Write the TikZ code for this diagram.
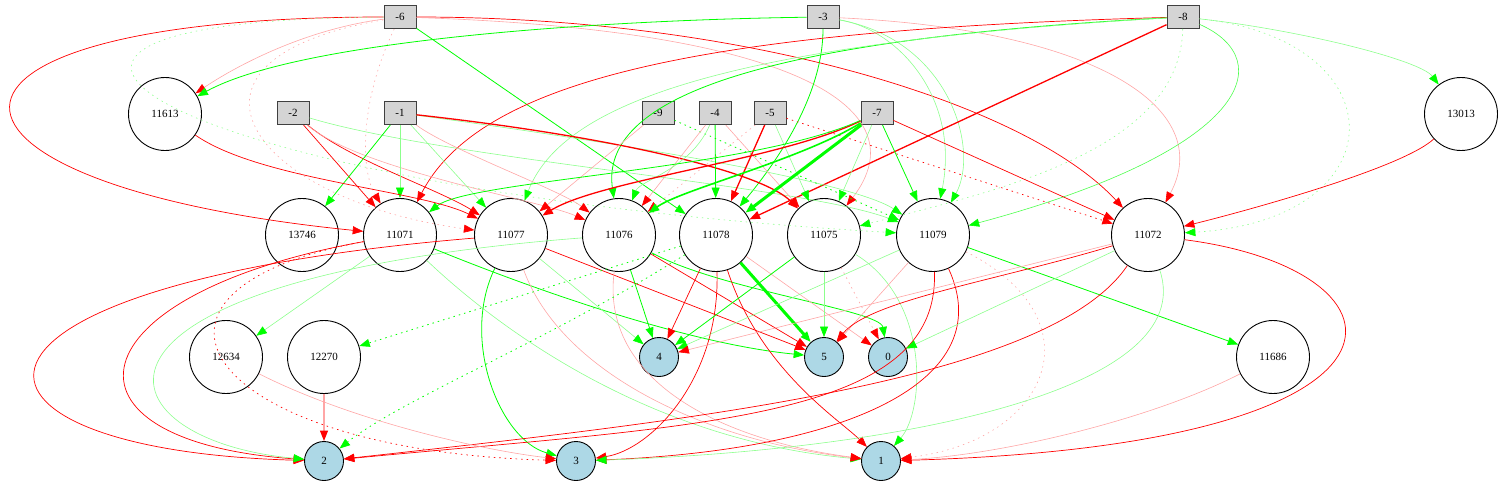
\documentclass[tikz,border=0pt]{standalone}
\usepackage{fontspec}
\setmainfont{Liberation Serif}
\usetikzlibrary{arrows.meta}
\definecolor{lightblue}{HTML}{ADD8E6}
\tikzset{
    %Define style for input boxes
    inp/.style={
           rectangle,
           draw=black!75, line width=1pt,
           fill=black!17,
           minimum width=32pt,
           minimum height=23pt,
           inner sep=0pt},
    %Define style for hidden nodes
    hid/.style={
           circle,
           draw, line width=0.9pt,
           minimum size=73pt,
           inner sep=0pt},
    %Define style for output nodes
    outp/.style={
           circle,
           draw, line width=0.9pt,
           fill=lightblue,
           minimum size=39pt,
           inner sep=0pt},
    % Define edge styles
    wneg/.style={
           draw=red, line width=0.7pt,
           -{Triangle[color=red,length=10.5pt,width=8pt]}},
    wnegt/.style={wneg, line width=1.3pt},
    wnegl/.style={wneg, draw=red!35, line width=0.6pt},
    wnegd/.style={wneg, dash pattern=on 1.5pt off 4pt},
    wnegld/.style={wnegl, dash pattern=on 1.5pt off 4pt},
    wpos/.style={
           draw=green, line width=0.8pt,
           -{Triangle[color=green,length=10.5pt,width=8pt]}},
    wpost/.style={wpos, line width=1.6pt},
    wposx/.style={wpos, line width=3pt},
    wposl/.style={wpos, draw=green!45, line width=0.6pt},
    wposd/.style={wpos, dash pattern=on 1.5pt off 4pt},
    wposld/.style={wposl, dash pattern=on 1.5pt off 4pt}
}

\begin{document}
\begin{tikzpicture}[x=1pt,y=-1pt,font=\fontsize{11}{13}\selectfont]
\useasboundingbox (0,0) rectangle (1503,487);
% inputs
\node [inp] (i6) at (400,17) {-6};
\node [inp] (i3) at (823,17) {-3};
\node [inp] (i8) at (1183,17) {-8};
\node [inp] (i2) at (293,113) {-2};
\node [inp] (i1) at (400,113) {-1};
\node [inp] (i9) at (658,113) {-9};
\node [inp] (i4) at (715,113) {-4};
\node [inp] (i5) at (770,113) {-5};
\node [inp] (i7) at (877,113) {-7};
% hidden
\node [hid] (h11613) at (165,114) {11613};
\node [hid] (h13013) at (1461,114) {13013};
\node [hid] (h13746) at (302,235) {13746};
\node [hid] (h11071) at (400,235) {11071};
\node [hid] (h11077) at (511,235) {11077};
\node [hid] (h11076) at (619,235) {11076};
\node [hid] (h11078) at (716,235) {11078};
\node [hid] (h11075) at (824,235) {11075};
\node [hid] (h11079) at (933,235) {11079};
\node [hid] (h11072) at (1148,235) {11072};
\node [hid] (h12634) at (226,357) {12634};
\node [hid] (h12270) at (324,357) {12270};
\node [hid] (h11686) at (1273,357) {11686};
% outputs
\node [outp] (o4) at (659,357) {4};
\node [outp] (o5) at (824,357) {5};
\node [outp] (o0) at (888,357) {0};
\node [outp] (o2) at (324,461) {2};
\node [outp] (o3) at (576,461) {3};
\node [outp] (o1) at (881,461) {1};

% edges from the inputs
\draw [wneg] (i6) .. controls +(-520,0) and +(-500,-50) .. (h11071);
\draw [wneg] (i6) .. controls +(350,0) and +(-120,-130) .. (h11072);
\draw [wpos] (i6) -- (h11078);
\draw [wnegl] (i6) .. controls +(-100,13) and +(65,-44) .. (h11613);
\draw [wnegld] (i6) .. controls +(-40,83) and +(-40,-65) .. (h11071);
\draw [wnegld] (i6) .. controls +(-250,43) and +(-261,-35) .. (h11077);
\draw [wposld] (i6) .. controls +(-520,3) and +(-760,-45) .. (h11079);
\draw [wnegl] (i6) .. controls +(400,13) and +(96,-125) .. (h11075);
\draw [wpos] (i3) .. controls +(-223,3) and +(135,-74) .. (h11613);
\draw [wpos] (i3) .. controls +(0,83) and +(54,-65) .. (h11078);
\draw [wposl] (i3) .. controls +(77,13) and +(27,-135) .. (h11079);
\draw [wposl] (i3) .. controls +(127,23) and +(47,-85) .. (h11079);
\draw [wnegl] (i3) .. controls +(277,13) and +(67,-125) .. (h11072);
\draw [wneg] (i8) .. controls +(-483,13) and +(80,-155) .. (h11071);
\draw [wpos] (i8) .. controls +(-433,23) and +(-19,-135) .. (h11076);
\draw [wposl] (i8) .. controls +(-483,28) and +(49,-125) .. (h11077);
\draw [wnegt] (i8) -- (h11078);
\draw [wposl, draw=green!70] (i8) .. controls +(97,43) and +(317,-85) .. (h11079);
\draw [wposl] (i8) .. controls +(117,13) and +(-41,-54) .. (h13013);
\draw [wposld] (i8) .. controls +(217,23) and +(252,-15) .. (h11072);
\draw [wposld] (i8) .. controls +(-3,133) and +(176,-45) .. (h11075);
\draw [wneg] (i2) -- (h11071);
\draw [wneg] (i2) .. controls +(57,47) and +(-71,-45) .. (h11077);
\draw [wnegl] (i2) .. controls +(67,57) and +(-79,-35) .. (h11076);
\draw [wposl] (i2) .. controls +(157,47) and +(-133,-50) .. (h11079);
\draw [wpos] (i1) -- (h13746);
\draw [wposl] (i1) -- (h11071);
\draw [wposl] (i1) -- (h11077);
\draw [wnegl] (i1) .. controls +(50,37) and +(-59,-45) .. (h11076);
\draw [wposl] (i1) .. controls +(200,27) and +(-83,-55) .. (h11079);
\draw [wnegt] (i1) .. controls +(200,22) and +(-64,-65) .. (h11075);
\draw [wnegl] (i9) -- (h11077);
\draw [wposd] (i9) -- (h11079);
\draw [wpos] (i4) -- (h11078);
\draw [wnegl] (i4) -- (h11076);
\draw [wposl] (i4) .. controls +(-25,57) and +(21,-55) .. (h11076);
\draw [wnegl] (i4) -- (h11075);
\draw [wnegt] (i5) -- (h11078);
\draw [wposl] (i5) -- (h11075);
\draw [wnegd] (i5) -- (h11072);
\draw [wnegld] (i5) -- (h11076);
\draw [wnegt] (i7) .. controls +(-97,47) and +(89,-55) .. (h11077);
\draw [wpost] (i7) .. controls +(-77,47) and +(61,-45) .. (h11076);
\draw [wposx] (i7) -- (h11078);
\draw [wpos] (i7) -- (h11079);
\draw [wposl] (i7) -- (h11075);
\draw [wneg] (i7) -- (h11072);
\draw [wpos] (i7) .. controls +(-127,57) and +(70,-55) .. (h11071);
\draw [wneg] (h11613) .. controls +(95,66) and +(-91,-45) .. (h11077);
\draw [wneg] (h13013) .. controls +(-61,56) and +(82,-20) .. (h11072);

% edges to the outputs
\draw [wneg] (h11071) .. controls +(-330,60) and +(-280,-20) .. (o2);
\draw [wneg] (h11077) .. controls +(-600,50) and +(-394,-11) .. (o2);
\draw [wposl] (h11076) .. controls +(-579,45) and +(-228,-21) .. (o2);
\draw [wnegd] (h11071) .. controls +(-300,55) and +(-376,-11) .. (o3);
\draw [wpos] (h11071) .. controls +(160,65) and +(-124,-12) .. (o5);
\draw [wposl] (h11071) .. controls +(100,95) and +(-231,-21) .. (o1);
\draw [wposl] (h11071) -- (h12634);
\draw [wpos] (h11077) .. controls +(-51,105) and +(-76,-21) .. (o3);
\draw [wnegl] (h11077) .. controls +(49,135) and +(-181,-21) .. (o1);
\draw [wneg] (h11077) -- (o5);
\draw [wposl] (h11077) -- (o4);
\draw [wpos] (h11076) -- (o4);
\draw [wpos] (h11076) .. controls +(101,55) and +(-8,-47) .. (o0);
\draw [wneg] (h11076) -- (o5);
\draw [wnegl] (h11076) .. controls +(-19,145) and +(-161,-21) .. (o1);
\draw [wposx] (h11078) -- (o5);
\draw [wneg] (h11078) -- (o4);
\draw [wneg] (h11078) .. controls +(4,145) and +(74,-11) .. (o3);
\draw [wneg] (h11078) .. controls +(44,135) and +(-41,-41) .. (o1);
\draw [wnegl] (h11078) -- (o0);
\draw [wposd] (h11078) -- (h12270);
\draw [wposd] (h11078) .. controls +(-166,105) and +(76,-61) .. (o2);
\draw [wpos] (h11075) -- (o4);
\draw [wposl] (h11075) -- (o5);
\draw [wposl] (h11075) .. controls +(106,65) and +(44,-51) .. (o1);
\draw [wnegld] (h11075) -- (o0);
\draw [wnegl] (h11079) -- (o5);
\draw [wposl] (h11079) -- (o4);
\draw [wpos] (h11079) -- (h11686);
\draw [wneg] (h11079) .. controls +(7,185) and +(376,-36) .. (o2);
\draw [wneg] (h11079) .. controls +(67,145) and +(274,-11) .. (o3);
\draw [wnegld] (h11079) .. controls +(167,85) and +(169,-21) .. (o1);
\draw [wnegl] (h11072) -- (o4);
\draw [wneg] (h11072) .. controls +(-98,145) and +(376,-41) .. (o2);
\draw [wneg] (h11072) .. controls +(-148,45) and +(46,-57) .. (o5);
\draw [wposl] (h11072) -- (o0);
\draw [wneg] (h11072) .. controls +(272,35) and +(569,-16) .. (o1);
\draw [wposl] (h11072) .. controls +(52,155) and +(324,-11) .. (o3);
\draw [wnegl] (h11686) .. controls +(-123,63) and +(119,-6) .. (o1);
\draw [wnegl] (h12634) .. controls +(124,63) and +(-96,-11) .. (o3);
\draw [wnegl, line width=1.2pt] (h12270) -- (o2);
\end{tikzpicture}
\end{document}
